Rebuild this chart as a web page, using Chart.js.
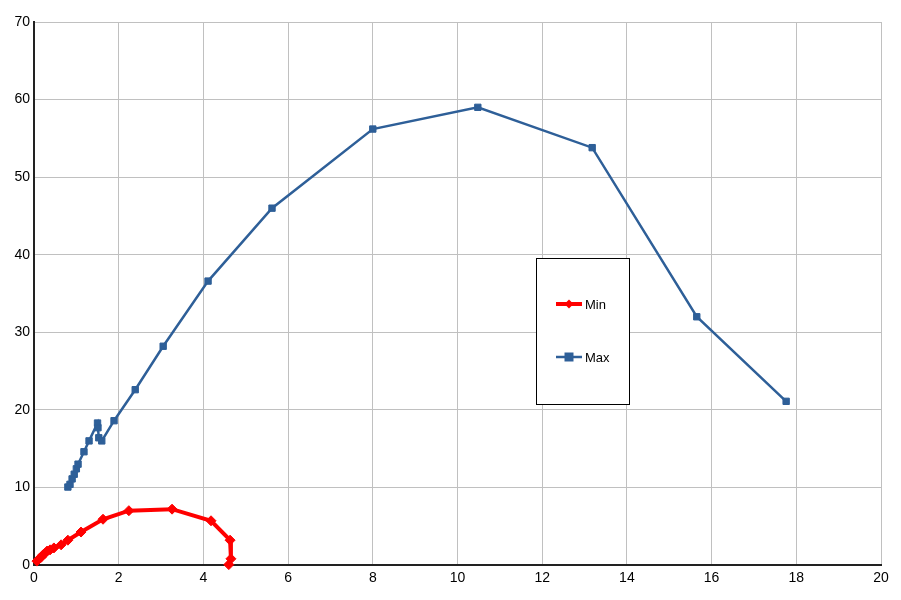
<!DOCTYPE html>
<html>
<head>
<meta charset="utf-8">
<script src="https://cdn.jsdelivr.net/npm/chart.js@4/dist/chart.umd.min.js"></script>
<style>
  html, body { margin: 0; padding: 0; background: #fff; }
  #wrap { width: 901px; height: 600px; }
</style>
</head>
<body>
<div id="wrap"><canvas id="curveChart"></canvas></div>
<script>
// Min curve
var minX = [0.07, 0.12, 0.17, 0.21, 0.26, 0.31, 0.38, 0.47, 0.64, 0.80, 1.11, 1.63, 2.24, 3.26, 4.18, 4.63, 4.65, 4.60];
var minY = [0.5, 0.8, 1.0, 1.3, 1.5, 1.8, 1.95, 2.2, 2.6, 3.2, 4.25, 5.9, 7.0, 7.2, 5.7, 3.2, 0.8, 0.05];
// Max curve
var maxX = [0.80, 0.85, 0.90, 0.95, 1.00, 1.04, 1.18, 1.30, 1.50, 1.51, 1.53, 1.60, 1.89, 2.39, 3.05, 4.11, 5.62, 8.00, 10.48, 13.18, 15.65, 17.76];
var maxY = [10.05, 10.4, 11.1, 11.7, 12.4, 13.0, 14.6, 16.0, 18.3, 17.7, 16.4, 16.0, 18.6, 22.6, 28.2, 36.6, 46.0, 56.2, 59.0, 53.8, 32.0, 21.1];

var seriesNames = ["Min", "Max"];

function toPoints(xs, ys) {
    var pts = [];
    for (var i = 0; i < xs.length; i++) {
        pts.push({ x: xs[i], y: ys[i] });
    }
    return pts;
}

// legend box drawn inside the plot, like the original
var boxLegend = {
    id: 'boxLegend',
    afterDraw: function (chart) {
        var ctx = chart.ctx;
        var left = 536.5, top = 258.5, w = 93, h = 146;
        ctx.save();
        ctx.fillStyle = '#fff';
        ctx.fillRect(left, top, w, h);
        ctx.strokeStyle = '#000';
        ctx.lineWidth = 1;
        ctx.strokeRect(left, top, w, h);
        var rows = [304, 357];
        chart.data.datasets.forEach(function (ds, i) {
            var y = rows[i];
            ctx.strokeStyle = ds.borderColor;
            ctx.lineWidth = ds.borderWidth;
            ctx.beginPath();
            ctx.moveTo(556, y);
            ctx.lineTo(582, y);
            ctx.stroke();
            ctx.fillStyle = ds.borderColor;
            ctx.beginPath();
            if (ds.pointStyle === 'rectRot') {
                ctx.moveTo(569, y - 4.5);
                ctx.lineTo(573.5, y);
                ctx.lineTo(569, y + 4.5);
                ctx.lineTo(564.5, y);
            } else {
                ctx.rect(564.5, y - 4.5, 9, 9);
            }
            ctx.fill();
            ctx.fillStyle = '#000';
            ctx.font = '13px "Liberation Sans", Arial, sans-serif';
            ctx.textBaseline = 'middle';
            ctx.fillText(ds.label, 585, y + 1);
        });
        ctx.restore();
    }
};

var ctx = document.getElementById("curveChart");

var chartData = {
    datasets: [
        {
            label: seriesNames[0],
            data: toPoints(minX, minY),
            showLine: true,
            clip: false,
            borderColor: "#ff0000",
            backgroundColor: "#ff0000",
            borderWidth: 4,
            pointStyle: 'rectRot',
            pointRadius: 5,
            pointBorderWidth: 1,
            pointHoverRadius: 5
        },
        {
            label: seriesNames[1],
            data: toPoints(maxX, maxY),
            showLine: true,
            clip: false,
            borderColor: "#2e5f98",
            backgroundColor: "#2e5f98",
            borderWidth: 2.5,
            pointStyle: 'rect',
            pointRadius: 4.5,
            pointBorderWidth: 1,
            pointHoverRadius: 4.5
        }
    ]
};

var curveChart = new Chart(ctx, {
    type: 'scatter',
    data: chartData,
    options: {
        responsive: true,
        maintainAspectRatio: false,
        animation: false,
        layout: { padding: { top: 22, right: 20, left: 0, bottom: 0 } },
        plugins: {
            legend: { display: false },
            tooltip: { enabled: false }
        },
        scales: {
            x: {
                type: 'linear',
                min: 0,
                max: 20,
                ticks: {
                    stepSize: 2,
                    color: '#000',
                    padding: 5,
                    font: { family: '"Liberation Sans", Arial, sans-serif', size: 14 }
                },
                grid: { color: '#c0c0c0', lineWidth: 1, drawTicks: false },
                border: { color: '#222', width: 2 },
                afterFit: function (scale) { scale.height = 35; }
            },
            y: {
                type: 'linear',
                min: 0,
                max: 70,
                ticks: {
                    stepSize: 10,
                    color: '#000',
                    padding: 4,
                    font: { family: '"Liberation Sans", Arial, sans-serif', size: 14 }
                },
                grid: { color: '#c0c0c0', lineWidth: 1, drawTicks: false },
                border: { color: '#222', width: 2 },
                afterFit: function (scale) { scale.width = 34; }
            }
        }
    },
    plugins: [boxLegend]
});
</script>
</body>
</html>
